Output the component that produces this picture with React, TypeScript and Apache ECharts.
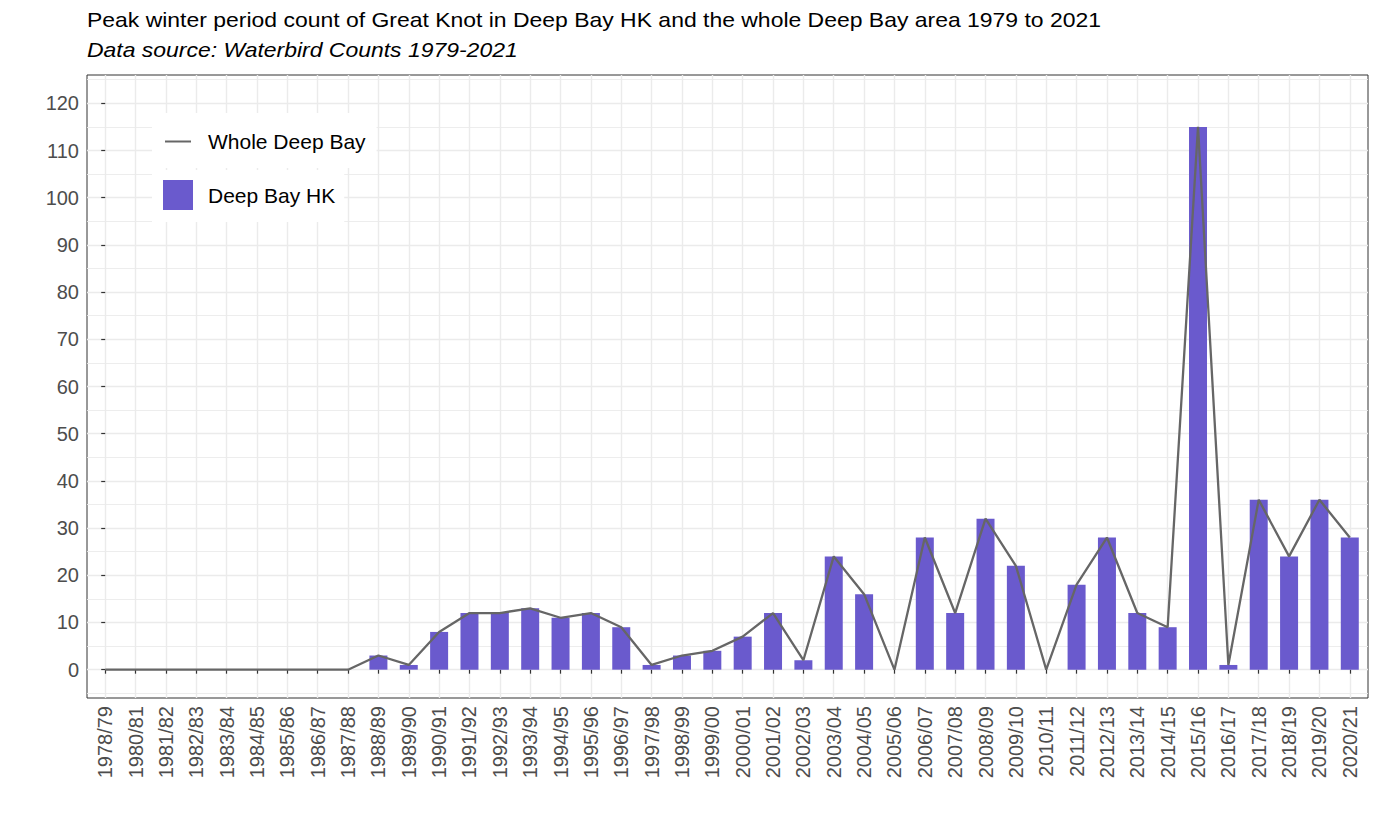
import React, { useEffect, useRef } from "react";
import * as echarts from "echarts";

const categories: string[] = [
  "1978/79", "1980/81", "1981/82", "1982/83", "1983/84", "1984/85", "1985/86",
  "1986/87", "1987/88", "1988/89", "1989/90", "1990/91", "1991/92", "1992/93",
  "1993/94", "1994/95", "1995/96", "1996/97", "1997/98", "1998/99", "1999/00",
  "2000/01", "2001/02", "2002/03", "2003/04", "2004/05", "2005/06", "2006/07",
  "2007/08", "2008/09", "2009/10", "2010/11", "2011/12", "2012/13", "2013/14",
  "2014/15", "2015/16", "2016/17", "2017/18", "2018/19", "2019/20", "2020/21",
];

const deepBayHK: number[] = [
  0, 0, 0, 0, 0, 0, 0, 0, 0, 3, 1, 8, 12, 12, 13, 11, 12, 9, 1, 3, 4,
  7, 12, 2, 24, 16, 0, 28, 12, 32, 22, 0, 18, 28, 12, 9, 115, 1, 36, 24, 36, 28,
];

const wholeDeepBay: number[] = [
  0, 0, 0, 0, 0, 0, 0, 0, 0, 3, 1, 8, 12, 12, 13, 11, 12, 9, 1, 3, 4,
  7, 12, 2, 24, 16, 0, 28, 12, 32, 22, 0, 18, 28, 12, 9, 115, 1, 36, 24, 36, 28,
];

const yMajorTicks: number[] = [0, 10, 20, 30, 40, 50, 60, 70, 80, 90, 100, 110, 120];
const yMinorTicks: number[] = [-5, 5, 15, 25, 35, 45, 55, 65, 75, 85, 95, 105, 115, 125];

const TITLE = "Peak winter period count of Great Knot in Deep Bay HK and the whole Deep Bay area 1979 to 2021";
const SUBTITLE = "Data source: Waterbird Counts 1979-2021";

const FONT = "'Liberation Sans', Arial, Helvetica, sans-serif";

export default function App() {
  const ref = useRef<HTMLDivElement>(null);
  useEffect(() => {
    if (!ref.current) return;
    const chart = echarts.init(ref.current, undefined, { renderer: "svg" });
    const xIdx = categories.map((_, i) => i);
    const option: any = {
      animation: false,
      backgroundColor: "#ffffff",
      textStyle: { fontFamily: FONT },
      graphic: [
        {
          type: "text",
          x: 87,
          y: 20,
          scaleX: 1.12,
          style: {
            text: TITLE,
            fontFamily: FONT,
            fontSize: 20.5,
            fill: "#000",
            verticalAlign: "middle",
            align: "left",
          },
        },
        {
          type: "text",
          x: 87,
          y: 50,
          scaleX: 1.12,
          style: {
            text: SUBTITLE,
            fontFamily: FONT,
            fontSize: 20.5,
            fontStyle: "italic",
            fill: "#000",
            verticalAlign: "middle",
            align: "left",
          },
        },
      ],
      legend: [
        {
          data: [{ name: "Whole Deep Bay", icon: "rect" }],
          left: 152,
          top: 113,
          orient: "vertical",
          padding: [18, 11, 16, 13],
          backgroundColor: "#ffffff",
          itemWidth: 26,
          itemHeight: 2,
          textStyle: { fontFamily: FONT, fontSize: 21, color: "#000", padding: [0, 0, 0, 12] },
        },
        {
          data: [{ name: "Deep Bay HK", icon: "rect" }],
          left: 152,
          top: 170,
          orient: "vertical",
          padding: [10, 9, 12, 11],
          backgroundColor: "#ffffff",
          itemWidth: 30,
          itemHeight: 30,
          textStyle: { fontFamily: FONT, fontSize: 21, color: "#000", padding: [0, 0, 0, 10] },
        },
      ],
      grid: {
        left: 87,
        top: 75,
        width: 1281,
        height: 623,
        show: true,
        borderColor: "#333333",
        borderWidth: 1,
        backgroundColor: "transparent",
      },
      xAxis: [
        {
          type: "value",
          min: -0.6,
          max: 41.6,
          axisLine: { show: false },
          axisTick: { show: true, length: 4, customValues: xIdx, lineStyle: { color: "#333333", width: 1.2 } },
          axisLabel: {
            customValues: xIdx,
            rotate: 90,
            margin: 8,
            fontSize: 20,
            color: "#4d4d4d",
            fontFamily: FONT,
            formatter: (v: number) => categories[Math.round(v)] ?? "",
          },
          splitLine: { show: true, lineStyle: { color: "#ebebeb", width: 1.4 } },
        },
      ],
      yAxis: [
        {
          type: "value",
          min: -6,
          max: 126,
          axisLine: { show: false },
          axisTick: { show: true, length: 4, customValues: yMajorTicks, lineStyle: { color: "#333333", width: 1.2 } },
          axisLabel: {
            customValues: yMajorTicks,
            margin: 8,
            fontSize: 20,
            color: "#4d4d4d",
            fontFamily: FONT,
          },
          splitLine: { show: true, lineStyle: { color: "#ebebeb", width: 1.4 } },
        },
        {
          type: "value",
          min: -6,
          max: 126,
          position: "left",
          axisLine: { show: false },
          axisTick: { show: false, customValues: yMinorTicks },
          axisLabel: { show: false, customValues: yMinorTicks },
          splitLine: { show: true, lineStyle: { color: "#ebebeb", width: 0.9 } },
        },
      ],
      series: [
        {
          name: "Deep Bay HK",
          type: "bar",
          xAxisIndex: 0,
          yAxisIndex: 0,
          barWidth: 18,
          itemStyle: { color: "#6A5ACD" },
          data: xIdx.map((i) => [i, deepBayHK[i]]),
          z: 2,
        },
        {
          name: "Whole Deep Bay",
          type: "line",
          xAxisIndex: 0,
          yAxisIndex: 0,
          symbol: "none",
          lineStyle: { color: "#666666", width: 2.3 },
          itemStyle: { color: "#666666" },
          data: xIdx.map((i) => [i, wholeDeepBay[i]]),
          z: 3,
        },
      ],
    };
    chart.setOption(option);
    return () => chart.dispose();
  }, []);
  return (
    <div
      ref={ref}
      style={{ position: "fixed", left: 0, top: 0, width: 1379, height: 827, background: "#fff" }}
    />
  );
}
